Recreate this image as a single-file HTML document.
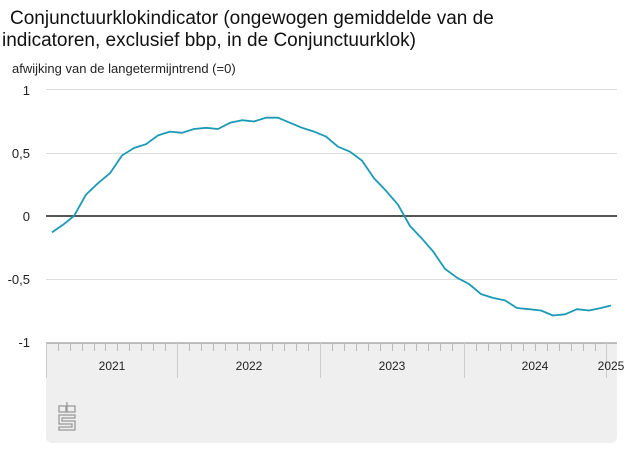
<!DOCTYPE html>
<html><head><meta charset="utf-8"><style>
body{margin:0;background:#fff;width:627px;height:470px;overflow:hidden;font-family:"Liberation Sans",Arial,sans-serif;}
</style></head><body>
<svg width="627" height="470" xmlns="http://www.w3.org/2000/svg" font-family="Liberation Sans, Arial, sans-serif">
<text x="10" y="24" font-size="19" fill="#111">Conjunctuurklokindicator (ongewogen gemiddelde van de</text>
<text x="2" y="46" font-size="19" fill="#111">indicatoren, exclusief bbp, in de Conjunctuurklok)</text>
<text x="12" y="73" font-size="13" fill="#222">afwijking van de langetermijntrend (=0)</text>
<rect x="46" y="343" width="571" height="100" rx="6" fill="#efefef"/>
<rect x="46" y="343" width="571" height="8" fill="#efefef"/>
<g stroke="#ddd" stroke-width="1">
<line x1="46" y1="89.5" x2="617" y2="89.5"/>
<line x1="46" y1="153.5" x2="617" y2="153.5"/>
<line x1="46" y1="279.5" x2="617" y2="279.5"/>
</g>
<line x1="46" y1="216" x2="617" y2="216" stroke="#555" stroke-width="2"/>
<line x1="46" y1="343" x2="617" y2="343" stroke="#999" stroke-width="1.2"/>
<g font-size="13" fill="#222" text-anchor="end">
<text x="30" y="95">1</text><text x="30" y="158">0,5</text><text x="30" y="221">0</text><text x="30" y="284">-0,5</text><text x="30" y="347">-1</text>
</g>
<path stroke="#bbb" stroke-width="1" fill="none" d="M58.5 343v8M70.5 343v8M82.5 343v8M94.5 343v8M105.5 343v8M117.5 343v8M129.5 343v8M141.5 343v8M153.5 343v8M165.5 343v8M189.5 343v8M201.5 343v8M213.5 343v8M225.5 343v8M237.5 343v8M249.5 343v8M260.5 343v8M272.5 343v8M284.5 343v8M296.5 343v8M308.5 343v8M332.5 343v8M344.5 343v8M356.5 343v8M368.5 343v8M380.5 343v8M392.5 343v8M404.5 343v8M416.5 343v8M428.5 343v8M440.5 343v8M452.5 343v8M476.5 343v8M488.5 343v8M500.5 343v8M511.5 343v8M523.5 343v8M535.5 343v8M547.5 343v8M559.5 343v8M571.5 343v8M583.5 343v8M595.5 343v8"/>
<g stroke="#ccc" stroke-width="1">
<line x1="46.5" y1="343" x2="46.5" y2="378"/>
<line x1="177.5" y1="343" x2="177.5" y2="378"/>
<line x1="320.5" y1="343" x2="320.5" y2="378"/>
<line x1="464.5" y1="343" x2="464.5" y2="378"/>
<line x1="606.5" y1="343" x2="606.5" y2="378"/>
</g>
<g font-size="12" fill="#222" text-anchor="middle">
<text x="112" y="370">2021</text><text x="249" y="370">2022</text><text x="392" y="370">2023</text><text x="535" y="370">2024</text><text x="611" y="370">2025</text>
</g>
<g fill="none" stroke="#999" stroke-width="1.3">
<path d="M59 406h7v6h-7zM67 402v10h8v-6h-8M59 415h16v3h-13v3h13v9h-16v-3h13v-3h-13z"/>
</g>
<polyline fill="none" stroke="#1b9ab5" stroke-width="1.8" stroke-linejoin="round" points="52,232.4 63,224.8 74,216 86,194.6 98,183.2 110,173.2 122,155.5 134,148 146,144.2 158,135.4 170,131.6 182,132.8 194,129 206,127.8 218,129 230,122.8 242,120.2 254,121.5 266,117.7 278,117.7 290,122.8 302,127.8 314,131.6 326,136.6 338,146.7 350,151.7 362,160.6 374,178.2 386,190.8 398,204.7 410,226 422,238.7 433,251.3 445,268.9 457,277.7 469,284 481,294.1 493,297.9 505,300.4 517,308 529,309.2 541,310.5 553,315.5 565,314.3 577,309.2 589,310.5 601,308 611,305.5"/>
</svg>
</body></html>
